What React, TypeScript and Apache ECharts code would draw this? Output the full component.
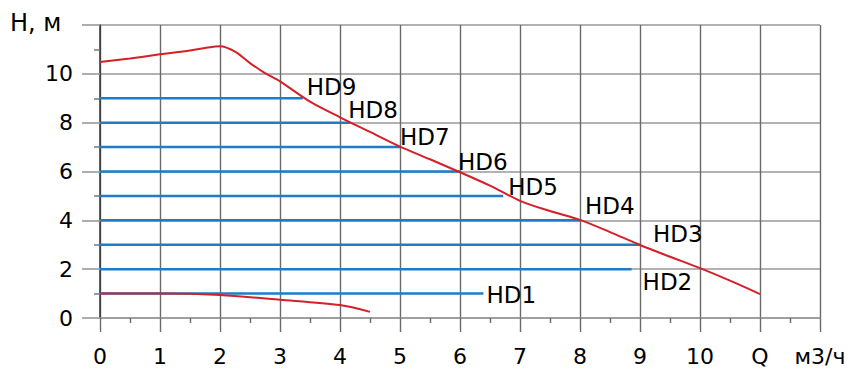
import React, { useEffect, useRef } from "react";
import * as echarts from "echarts";

// Upper pump curve (Q, H)
const curveQ = [0, 0.5, 1, 1.5, 1.75, 2, 2.25, 2.5, 2.75, 3, 3.5, 4, 4.5, 5, 5.5, 6, 6.5, 7, 7.5, 8, 8.5, 9, 9.5, 10, 10.5, 11];
const curveH = [10.48, 10.63, 10.8, 10.96, 11.06, 11.13, 10.91, 10.44, 10.03, 9.69, 8.86, 8.22, 7.62, 7.02, 6.5, 5.97, 5.42, 4.8, 4.38, 4.02, 3.52, 2.99, 2.51, 2.04, 1.53, 0.98];

// Lower curve
const lowQ = [0, 1, 2, 3, 4, 4.5];
const lowH = [1.0, 1.0, 0.94, 0.75, 0.53, 0.25];

// HD levels
const hdNames = ["HD1", "HD2", "HD3", "HD4", "HD5", "HD6", "HD7", "HD8", "HD9"];
const hdLevels = [1, 2, 3, 4, 5, 6, 7, 8, 9];
const hdEnds = [6.39, 8.86, 9.0, 8.0, 6.72, 6.0, 5.0, 4.17, 3.38];

// tick labels
const xLabels: Record<number, string> = { 0: "0", 1: "1", 2: "2", 3: "3", 4: "4", 5: "5", 6: "6", 7: "7", 8: "8", 9: "9", 10: "10", 11: "Q", 12: "м3/ч" };
const yLabels: Record<number, string> = { 0: "0", 2: "2", 4: "4", 6: "6", 8: "8", 10: "10", 12: "" };

// label offsets (style only)
const hdLabelOffsets: [number, number][] = [
  [-2, 1], [6, 13], [8, -11], [0, -14], [0, -9], [-7, -10], [-5, -10], [-7, -13], [-1, -11],
];

const FONT = "DejaVu Sans";

export default function App() {
  const ref = useRef<HTMLDivElement>(null);
  useEffect(() => {
    if (!ref.current) return;
    const chart = echarts.init(ref.current, undefined, { renderer: "svg" });
    const hdSeries = hdNames.map((name, i) => ({
      type: "line",
      name,
      silent: true,
      symbol: "none",
      lineStyle: { color: "#1f7cc8", width: 2.5 },
      endLabel: {
        show: true,
        distance: 5,
        offset: hdLabelOffsets[i],
        formatter: name,
        color: "#000",
        fontFamily: FONT,
        fontSize: 23,
      },
      data: [
        [0, hdLevels[i]],
        [hdEnds[i], hdLevels[i]],
      ],
      z: 3,
    }));
    chart.setOption({
      animation: false,
      title: {
        text: "H, м",
        left: 5,
        top: 6,
        textStyle: { fontFamily: FONT, fontSize: 24, fontWeight: "normal", color: "#000" },
      },
      grid: { left: 100, right: 43, top: 25, bottom: 51, containLabel: false },
      xAxis: {
        type: "value",
        min: 0,
        max: 12,
        interval: 1,
        axisLine: { show: true, lineStyle: { color: "#999", width: 1.5 } },
        axisTick: { show: true, length: 14, lineStyle: { color: "#6a6a6a", width: 1.4 } },
        minorTick: { show: true, splitNumber: 2, length: 5, lineStyle: { color: "#6a6a6a", width: 1.4 } },
        splitLine: { show: true, lineStyle: { color: "#6a6a6a", width: 1.4 } },
        axisLabel: {
          margin: 27,
          color: "#000",
          fontFamily: FONT,
          fontSize: 22,
          formatter: (v: number) => xLabels[Math.round(v)] ?? "",
        },
      },
      yAxis: {
        type: "value",
        min: 0,
        max: 12,
        interval: 2,
        axisLine: { show: true, lineStyle: { color: "#333", width: 1.5 } },
        axisTick: { show: true, length: 18, lineStyle: { color: "#999", width: 1.6 } },
        minorTick: { show: true, splitNumber: 2, length: 6, lineStyle: { color: "#777", width: 1.5 } },
        splitLine: { show: true, lineStyle: { color: "#999", width: 1.6 } },
        axisLabel: {
          margin: 27,
          color: "#000",
          fontFamily: FONT,
          fontSize: 22,
          formatter: (v: number) => yLabels[Math.round(v)] ?? "",
        },
      },
      series: [
        ...hdSeries,
        {
          type: "line",
          name: "curve",
          silent: true,
          symbol: "none",
          smooth: 0.3,
          lineStyle: { color: "#d42029", width: 2 },
          data: curveQ.map((q, i) => [q, curveH[i]]),
          z: 4,
        },
        {
          type: "line",
          name: "low",
          silent: true,
          symbol: "none",
          smooth: 0.3,
          lineStyle: { color: "#d42029", width: 2 },
          data: lowQ.map((q, i) => [q, lowH[i]]),
          z: 4,
        },
      ],
    });
    return () => chart.dispose();
  }, []);
  return <div ref={ref} style={{ position: "absolute", left: 0, top: 0, width: 863, height: 369 }} />;
}
